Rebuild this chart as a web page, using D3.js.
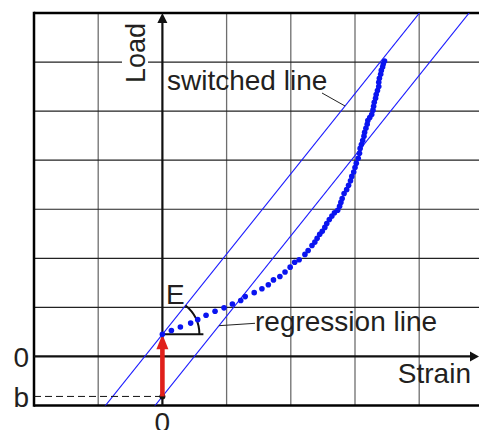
<!DOCTYPE html>
<html>
<head>
<meta charset="utf-8">
<script src="https://cdn.jsdelivr.net/npm/d3@7"></script>
<style>
  body { margin: 0; background: #fff; }
  svg { display: block; }
  text { font-family: "Liberation Sans", Arial, sans-serif; font-size: 28px; fill: #231f20; }
</style>
</head>
<body>
<div id="chart"></div>
<script>
// measured curve: strain (grid units) vs load (grid units)
const strain = [0.00, 0.14, 0.28, 0.44, 0.55, 0.68, 0.82, 0.96, 1.09, 1.22, 1.29, 1.43, 1.55, 1.65,
  1.73, 1.83, 1.91, 1.99, 2.06, 2.13, 2.22, 2.27, 2.33, 2.375, 2.41, 2.45, 2.49, 2.53, 2.56, 2.60,
  2.64, 2.68, 2.73, 2.76, 2.78, 2.80, 2.83, 2.87, 2.90, 2.93, 2.95, 2.98, 3.00, 3.02, 3.05, 3.07,
  3.08, 3.10, 3.12, 3.14, 3.15, 3.17, 3.19, 3.20, 3.23, 3.26, 3.28, 3.29, 3.30, 3.32, 3.33, 3.35,
  3.37, 3.37, 3.38, 3.40, 3.41, 3.43, 3.44, 3.46];
const load = [0.45, 0.53, 0.60, 0.68, 0.75, 0.84, 0.92, 0.99, 1.07, 1.14, 1.22, 1.30, 1.38, 1.46,
  1.56, 1.63, 1.72, 1.82, 1.92, 1.97, 2.08, 2.16, 2.26, 2.33, 2.41, 2.49, 2.55, 2.63, 2.71, 2.79,
  2.86, 2.93, 2.98, 3.06, 3.14, 3.22, 3.32, 3.40, 3.49, 3.58, 3.67, 3.76, 3.85, 3.94, 4.04, 4.14,
  4.24, 4.32, 4.40, 4.49, 4.57, 4.65, 4.73, 4.81, 4.87, 4.93, 5.02, 5.10, 5.18, 5.26, 5.34, 5.42,
  5.50, 5.59, 5.67, 5.75, 5.83, 5.90, 5.96, 6.02];

const E = 1.636;          // slope of regression line
const b = -0.815;         // intercept of regression line
const switched = 0.45;    // intercept of switched line

const xGrid = [-1, 1, 2, 3, 4];
const yGrid = [1, 2, 3, 4, 5, 6];
const yTickLabels = [{v: 0, t: "0"}, {v: b, t: "b"}];

const W = 479, H = 430;
const pLeft = 34, pTop = 13, pBottom = 405.5;

const svg = d3.select("#chart").append("svg").attr("width", W).attr("height", H);

const x = d3.scaleLinear().domain([-2, 5]).range([pLeft, 483.4]);
const y = d3.scaleLinear().domain([-1, 7]).range([pBottom, pTop]);

svg.append("defs").append("clipPath").attr("id", "plot")
  .append("rect").attr("x", pLeft).attr("y", pTop).attr("width", W - pLeft).attr("height", pBottom - pTop);

// grid
svg.append("g").selectAll("line").data(xGrid).enter().append("line")
  .attr("x1", d => x(d)).attr("x2", d => x(d))
  .attr("y1", pTop).attr("y2", pBottom)
  .attr("stroke", "#6e6e6e").attr("stroke-width", 1.3);

svg.append("g").selectAll("line").data(yGrid).enter().append("line")
  .attr("x1", pLeft).attr("x2", W)
  .attr("y1", d => y(d)).attr("y2", d => y(d))
  .attr("stroke", "#222").attr("stroke-width", 1.2);

// frame (left, top, bottom)
const frame = svg.append("g").attr("stroke", "#000").attr("stroke-width", 2.5);
frame.append("line").attr("x1", pLeft).attr("x2", pLeft).attr("y1", pTop - 1.2).attr("y2", pBottom + 1.2);
frame.append("line").attr("x1", pLeft).attr("x2", W).attr("y1", pTop).attr("y2", pTop);
frame.append("line").attr("x1", pLeft).attr("x2", W).attr("y1", pBottom).attr("y2", pBottom);

// axes with arrows
const axes = svg.append("g");
axes.append("line").attr("x1", pLeft).attr("x2", W - 6).attr("y1", y(0)).attr("y2", y(0))
  .attr("stroke", "#111").attr("stroke-width", 2.2);
axes.append("path")
  .attr("d", `M${W},${y(0)} L${W - 9},${y(0) - 5} L${W - 9},${y(0) + 5} Z`).attr("fill", "#111");
axes.append("line").attr("x1", x(0)).attr("x2", x(0)).attr("y1", pBottom).attr("y2", pTop + 6)
  .attr("stroke", "#111").attr("stroke-width", 2.2);
axes.append("path")
  .attr("d", `M${x(0)},${pTop} L${x(0) - 5},${pTop + 10} L${x(0) + 5},${pTop + 10} Z`).attr("fill", "#111");

// regression and switched lines
const line = d3.line().x(d => x(d[0])).y(d => y(d[1]));
const lines = svg.append("g").attr("clip-path", "url(#plot)");
[b, switched].forEach(c => {
  lines.append("path")
    .attr("d", line([[-2, c - 2 * E], [5, c + 5 * E]]))
    .attr("fill", "none").attr("stroke", "#1a1aff").attr("stroke-width", 1.1);
});

// dashed line to b and its point
svg.append("line").attr("x1", pLeft).attr("x2", x(0)).attr("y1", y(b)).attr("y2", y(b))
  .attr("stroke", "#111").attr("stroke-width", 1).attr("stroke-dasharray", "7,4");
svg.append("circle").attr("cx", x(0)).attr("cy", y(b)).attr("r", 3).attr("fill", "#111");

// red shift arrow
svg.append("line").attr("x1", x(0)).attr("x2", x(0)).attr("y1", y(b)).attr("y2", y(switched) + 12)
  .attr("stroke", "#e0201b").attr("stroke-width", 4.6);
svg.append("path")
  .attr("d", `M${x(0)},${y(switched)} L${x(0) - 6},${y(switched) + 15} L${x(0) + 6},${y(switched) + 15} Z`)
  .attr("fill", "#e0201b");

// angle E
const ox = x(0), oy = y(switched);
const ang = Math.atan(E * (y(0) - y(1)) / (x(1) - x(0)));
const r = 37;
svg.append("path")
  .attr("d", `M${ox},${oy} L${ox + 41},${oy} M${ox + r},${oy} A${r},${r} 0 0 0 ${ox + r * Math.cos(ang)},${oy - r * Math.sin(ang)}`)
  .attr("fill", "none").attr("stroke", "#111").attr("stroke-width", 2);

// data dots
svg.append("g").selectAll("circle").data(strain).enter().append("circle")
  .attr("cx", d => x(d)).attr("cy", (d, i) => y(load[i]))
  .attr("r", 2.8).attr("fill", "#0a14f0");

// leaders
const upperX = v => x((v - switched) / E);
const lowerX = v => x((v - b) / E);
svg.append("line").attr("x1", 322).attr("y1", 93).attr("x2", upperX(y.invert(106))).attr("y2", 106)
  .attr("stroke", "#222").attr("stroke-width", 1);
svg.append("line").attr("x1", 255).attr("y1", 323.3).attr("x2", lowerX(y.invert(325.7))).attr("y2", 325.7)
  .attr("stroke", "#222").attr("stroke-width", 1);

// labels
const loadG = svg.append("g").attr("transform", "translate(135,53) rotate(-90)");
loadG.append("rect").attr("x", -31).attr("y", -13).attr("width", 62).attr("height", 26).attr("fill", "#fff");
loadG.append("text").attr("text-anchor", "middle").attr("dy", "0.36em").style("font-size", "27px").text("Load");

svg.append("text").attr("x", 167).attr("y", 90).text("switched line");
svg.append("text").attr("x", 255).attr("y", 331).text("regression line");
svg.append("text").attr("x", 471).attr("y", 383).attr("text-anchor", "end").text("Strain");
svg.append("text").attr("x", 166).attr("y", 304).text("E");

svg.append("g").selectAll("text").data(yTickLabels).enter().append("text")
  .attr("x", 29).attr("y", d => y(d.v)).attr("dy", "0.36em").attr("text-anchor", "end")
  .text(d => d.t);
svg.append("text").attr("x", x(0)).attr("y", 432).attr("text-anchor", "middle").text("0");
</script>
</body>
</html>
